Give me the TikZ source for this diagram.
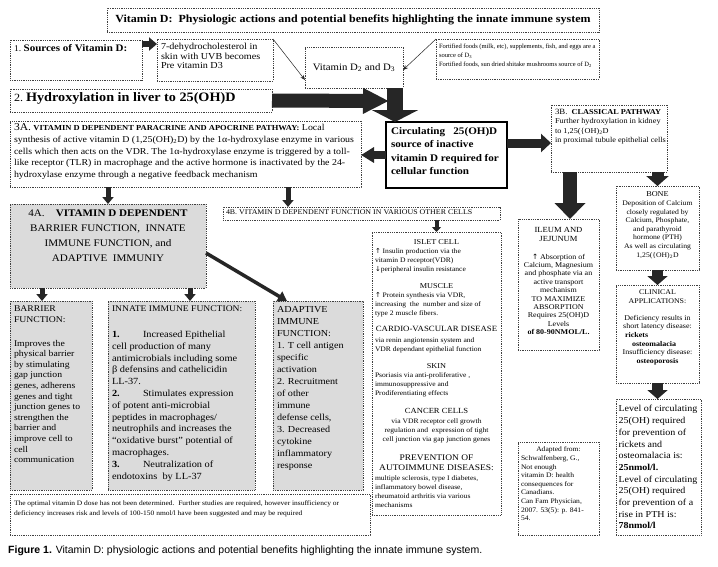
\documentclass[tikz,border=0pt]{standalone}
\usepackage{fontspec}
\setmainfont{Liberation Serif}[FakeStretch=1.1]
\newfontfamily\nrw{Liberation Serif}
\newfontfamily\capfont{Liberation Sans}
\newfontfamily\dvs{DejaVu Sans}
\usetikzlibrary{arrows.meta}
\newlength\padx
\setlength\padx{4pt}
\newcommand\fs[2]{\fontsize{#1}{#2}\selectfont}
\newcommand\up{{\dvs ↑}}
\newcommand\dn{{\dvs ↓}}
\newcommand\BX[8]{\node[#1] (#2) at (#3,#4) {\begin{minipage}[c][\dimexpr#6pt-#4pt\relax][t]{\dimexpr#5pt-#3pt-2\padx\relax}\raggedright\vspace*{#7pt}#8\end{minipage}};}
\tikzset{
  bx/.style={draw=black!75, densely dotted, line width=0.8pt, fill=white, anchor=north west, inner xsep=\padx, inner ysep=0pt, outer sep=0pt},
  gbx/.style={bx, fill=black!14},
  tbx/.style={bx, solid, draw=black, line width=2.2pt},
  thinarr/.style={draw=black!85, line width=0.5pt, -{Stealth[length=5pt,width=4pt]}},
  blockarr/.style n args={3}{draw=black!85, line width=#1, -{Triangle[length=#2,width=#3]}},
}
\begin{document}
\begin{tikzpicture}[x=1pt,y=-1pt]
\useasboundingbox (0,0) rectangle (718,566);
\fill[white] (0,0) rectangle (718,566);

\node[bx, anchor=center, minimum width=492pt, minimum height=24pt, inner sep=0pt] (title) at (353,20) {\fs{10.9}{12}\bfseries Vitamin D:\ \ Physiologic actions and potential benefits highlighting the innate immune system};

\BX{bx}{src}{10}{40}{142}{80}{4}{{\fs{8.8}{10}1.\ }{\fs{10}{11}\bfseries Sources of Vitamin D:}}
\BX{bx}{dehy}{157}{39}{273}{81}{4}{\fs{9.2}{9.8}7-dehydrocholesterol in\\ skin with UVB becomes\\ Pre vitamin D3}
\node[bx, anchor=center, minimum width=98pt, minimum height=41pt, inner sep=0pt] (vitd) at (354,67.5) {\fs{9.8}{11}Vitamin D\textsubscript{2} and D\textsubscript{3}};
\setlength\padx{3pt}
\BX{bx}{fort}{436}{39}{599}{79}{5}{\nrw\fs{6.5}{9}\mbox{Fortified foods (milk, etc), supplements, fish, and eggs are a}\\ source of D\textsubscript{3}\\ \mbox{Fortified foods, sun dried shitake mushrooms source of D\textsubscript{2}}}
\setlength\padx{4pt}
\BX{bx}{hyd}{10}{89}{272}{112}{3.5}{{\fs{11}{12}2.\ }{\fs{12.9}{13}\bfseries Hydroxylation in liver to 25(OH)D}}

\BX{bx}{pa}{10}{121}{361}{187}{3}{\fs{9}{11.6}\mbox{{\fs{10.5}{11.6}3A.} {\fs{7.7}{11.6}\bfseries VITAMIN D DEPENDENT PARACRINE AND APOCRINE PATHWAY:} Local}\\ \mbox{synthesis of active vitamin D (1,25(OH)\textsubscript{2}D) by the 1α-hydroxylase enzyme in various}\\ \mbox{cells which then acts on the VDR. The 1α-hydroxylase enzyme is triggered by a toll-}\\ \mbox{like receptor (TLR) in macrophage and the active hormone is inactivated by the 24-}\\ \mbox{hydroxylase enzyme through a negative feedback mechanism}}

\setlength\padx{5pt}
\BX{tbx}{circ}{386}{122}{507}{188}{5}{\bfseries\fs{10.1}{13.5}\mbox{Circulating\ \ \ 25(OH)D}\\ source of inactive\\ \mbox{vitamin D required for}\\ cellular function}
\setlength\padx{4pt}
\BX{bx}{cl}{551}{105}{667}{172}{4}{\fs{7.5}{9.5}{\fs{8}{9.5}3B.}\ \ \textbf{CLASSICAL PATHWAY}\\ \mbox{Further hydroxylation in kidney}\\ to 1,25(\{OH)\textsubscript{2}D\\ \mbox{in proximal tubule epithelial cells}}

\BX{gbx}{fa}{10}{204}{206}{288}{6}{\centering\fs{10.1}{15}4A.\ \ \ \ \textbf{VITAMIN D DEPENDENT}\\ BARRIER FUNCTION,\ \ INNATE\\ IMMUNE FUNCTION, and\\ ADAPTIVE\ \ IMMUNIY}
\setlength\padx{3pt}
\BX{bx}{fb}{223}{207}{500}{220}{2.5}{\fs{7.2}{8}4B. VITAMIN D DEPENDENT FUNCTION IN VARIOUS OTHER CELLS}

\BX{bx}{islet}{372}{232}{501}{515}{8}{%
{\centering\fs{7.5}{9}ISLET CELL\par}
\fs{6.9}{9}\up\ Insulin production via the\\ vitamin D receptor(VDR)\\ \dn peripheral insulin resistance\par
\vspace{8pt}
{\centering\fs{7.5}{9}MUSCLE\par}
\up\ Protein synthesis via VDR,\\ \mbox{increasing\ \ the\ \ number and size of}\\ type 2 muscle fibers.\par
\vspace{7pt}
{\centering\fs{8}{9}CARDIO-VASCULAR DISEASE\par}
\vspace{2pt}
via renin angiotensin system and\\ \mbox{VDR dependant epithelial function}\par
\vspace{8pt}
{\centering\fs{7.5}{9}SKIN\par}
Psoriasis via anti-proliferative ,\\ immunosuppressive and\\ Prodiferentiating effects\par
\vspace{9pt}
{\centering\fs{7.8}{9}CANCER CELLS\par\vspace{1pt}\fs{6.9}{9}via VDR receptor cell growth\\ \mbox{regulation and\ \ expression of tight}\\ \mbox{cell junction via gap junction genes}\par}
\vspace{9pt}
{\centering\fs{8.6}{10}PREVENTION OF\\ AUTOIMMUNE DISEASES:\par}
\vspace{1pt}
\mbox{multiple sclerosis, type I diabetes,}\\ inflammatory bowel disease,\\ rheumatoid arthritis via various\\ mechanisms}

\setlength\padx{1pt}
\BX{bx}{ileum}{518}{219}{599}{350}{8}{\centering\fs{7.8}{9}ILEUM AND\\ JEJUNUM\par\vspace{9.6pt}\fs{7.3}{8.4}\up\ Absorption of\\ Calcium, Magnesium\\ and phosphate via an\\ active transport\\ mechanism\\ TO MAXIMIZE\\ ABSORPTION\\ Requires 25(OH)D\\ Levels\\ \textbf{of 80-90NMOL/L.}}

\setlength\padx{3pt}
\BX{bx}{bone}{616}{186}{699}{270}{6}{\centering\fs{7.5}{9}BONE\\ \fs{7}{8.6}Deposition of Calcium\\ closely regulated by\\ Calcium, Phosphate,\\ and parathyroid\\ hormone (PTH)\\ As well as circulating\\ 1,25(\{OH)\textsubscript{2}D}
\BX{bx}{clin}{616}{285}{699}{383}{5}{\centering\fs{7.2}{9}CLINICAL\\ APPLICATIONS:\par\vspace{8pt}\fs{7.3}{8.6}Deficiency results in\\ short latency disease:\\ \makebox[\linewidth][l]{\hspace{6pt}\textbf{rickets}}\\ \makebox[\linewidth][l]{\hspace{13pt}\textbf{osteomalacia}}\\ Insufficiency disease:\\ \textbf{osteoporosis}}
\setlength\padx{2.5pt}
\BX{bx}{lvl}{616}{399}{701}{535}{6.5}{\fs{9.1}{11.7}Level of circulating\\ 25(OH) required\\ for prevention of\\ rickets and\\ osteomalacia is:\\ \textbf{25nmol/l.}\\ Level of circulating\\ 25(OH) required\\ for prevention of a\\ rise in PTH is:\\ \textbf{78nmol/l}}
\setlength\padx{3pt}
\BX{bx}{adp}{518}{442}{599}{535}{5}{{\centering\fs{6.9}{8.6}Adapted from:\par}\fs{6.9}{8.6}Schwalfenberg, G.,\\ Not enough\\ vitamin D: health\\ consequences for\\ Canadians.\\ Can Fam Physician,\\ 2007. 53(5): p. 841-\\ 54.}

\setlength\padx{4pt}
\BX{gbx}{bar}{10}{301}{92}{490}{5}{\fs{8.8}{10.6}BARRIER\\ FUNCTION:\par\vspace{13pt}Improves the\\ physical barrier\\ by stimulating\\ gap junction\\ genes, adherens\\ genes and tight\\ junction genes to\\ strengthen the\\ barrier and\\ improve cell to\\ cell\\ communication}
\BX{gbx}{inn}{108}{301}{255}{490}{5}{\fs{9.4}{11.8}{\fs{8.7}{11.8}INNATE IMMUNE FUNCTION:}\par\vspace{14pt}\makebox[31pt][l]{\textbf{1.}}Increased Epithelial\\ cell production of many\\ \mbox{antimicrobials including some}\\ β defensins and cathelicidin\\ LL-37.\\ \makebox[31pt][l]{\textbf{2.}}Stimulates expression\\ of potent anti-microbial\\ peptides in macrophages/\\ \mbox{neutrophils and increases the}\\ \mbox{``oxidative burst'' potential of}\\ macrophages.\\ \makebox[31pt][l]{\textbf{3.}}Neutralization of\\ endotoxins\ \ by LL-37}
\BX{gbx}{adap}{273}{301}{363}{490}{5}{\fs{9.2}{12}ADAPTIVE\\ IMMUNE\\ FUNCTION:\\ 1. T cell antigen\\ specific\\ activation\\ 2. Recruitment\\ of other\\ immune\\ defense cells,\\ 3. Decreased\\ cytokine\\ inflammatory\\ response}
\BX{bx}{note}{10}{494}{370}{535}{7}{\fs{6.8}{9.5}\mbox{The optimal vitamin D dose has not been determined.\ \ Further studies are required, however insufficiency or}\\ \mbox{deficiency increases risk and levels of 100-150 nmol/l have been suggested and may be required}}

\node[anchor=base west, inner sep=0pt] (cap) at (8,553) {\capfont\fs{10.5}{12}\textbf{Figure 1.} Vitamin D: physiologic actions and potential benefits highlighting the innate immune system.};

\coordinate (hx) at (389,101);
\coordinate (xb) at (288,0);
\coordinate (xc) at (570,0);
\coordinate (xd) at (42,0);
\coordinate (xe) at (190,0);

\draw[blockarr={6pt}{8pt}{13pt}] ([yshift=16pt]src.east) -- ([yshift=16pt]dehy.west);
\draw[thinarr] (dehy.north east) -- ([yshift=-12.5pt]vitd.west);
\draw[thinarr] (fort.north west) -- ([yshift=-2.5pt]vitd.east);
\draw[blockarr={14pt}{26pt}{24pt}] (hyd.east) -- (hx);
\draw[blockarr={16pt}{12pt}{46pt}] ([xshift=41pt]vitd.south) -- ([xshift=9pt]circ.north west);
\draw[blockarr={8pt}{13pt}{15pt}] (circ.west) -- (circ.west -| pa.east);
\draw[blockarr={9pt}{10pt}{18pt}] ([yshift=12pt]circ.east) -- ([yshift=12pt]circ.east -| cl.west);
\draw[blockarr={5pt}{7pt}{11pt}] (fa.north |- pa.south) -- (fa.north);
\draw[blockarr={5pt}{7pt}{11pt}] (pa.south -| xb) -- (fb.north -| xb);
\draw[blockarr={4pt}{5pt}{9pt}] (islet.north |- fb.south) -- (islet.north);
\draw[blockarr={14pt}{16pt}{30pt}] (cl.south -| xc) -- (ileum.north -| xc);
\draw[blockarr={12pt}{10pt}{22pt}] (bone.north |- cl.south) -- (bone.north);
\draw[blockarr={11pt}{9pt}{20pt}] (bone.south) -- (clin.north);
\draw[blockarr={11pt}{9pt}{20pt}] (clin.south) -- (clin.south |- lvl.north);
\draw[blockarr={5pt}{7pt}{11pt}] (fa.south -| xd) -- (bar.north -| xd);
\draw[blockarr={5pt}{7pt}{11pt}] (fa.south -| xe) -- (inn.north -| xe);
\draw[blockarr={3.5pt}{9pt}{11pt}] ([yshift=-7pt]fa.east) -- ([xshift=14pt]adap.north west);
\end{tikzpicture}
\end{document}
